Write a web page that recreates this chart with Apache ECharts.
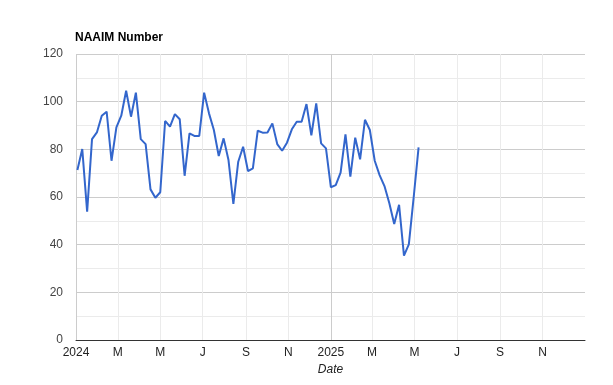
<!DOCTYPE html>
<html>
<head>
<meta charset="utf-8">
<script src="https://cdn.jsdelivr.net/npm/echarts@6/dist/echarts.min.js"></script>
<style>
html,body{margin:0;padding:0;background:#fff;}
#chart{width:613px;height:385px;}
</style>
</head>
<body>
<div id="chart"></div>
<script>
const dates = [
  '2024-01-03','2024-01-10','2024-01-17','2024-01-24','2024-01-31',
  '2024-02-07','2024-02-14','2024-02-21','2024-02-28',
  '2024-03-06','2024-03-13','2024-03-20','2024-03-27',
  '2024-04-03','2024-04-10','2024-04-17','2024-04-24',
  '2024-05-01','2024-05-08','2024-05-15','2024-05-22','2024-05-29',
  '2024-06-05','2024-06-12','2024-06-19','2024-06-26',
  '2024-07-03','2024-07-10','2024-07-17','2024-07-24','2024-07-31',
  '2024-08-07','2024-08-14','2024-08-21','2024-08-28',
  '2024-09-04','2024-09-11','2024-09-18','2024-09-25',
  '2024-10-02','2024-10-09','2024-10-16','2024-10-23','2024-10-30',
  '2024-11-06','2024-11-13','2024-11-20','2024-11-27',
  '2024-12-04','2024-12-11','2024-12-18','2024-12-25',
  '2025-01-01','2025-01-08','2025-01-15','2025-01-22','2025-01-29',
  '2025-02-05','2025-02-12','2025-02-19','2025-02-26',
  '2025-03-05','2025-03-12','2025-03-19','2025-03-26',
  '2025-04-02','2025-04-09','2025-04-16','2025-04-23','2025-04-30',
  '2025-05-07'
];
const naaim = [
  71.3, 80.1, 53.8, 84.3, 87.1,
  94.1, 95.8, 75.2, 89.2,
  94.1, 104.6, 93.7, 103.8,
  84.3, 82.2, 63.2, 59.7,
  62.0, 91.9, 89.5, 94.8, 92.6,
  68.9, 86.7, 85.6, 85.6,
  103.8, 95.1, 88.1, 77.2, 84.6,
  75.5, 57.1, 74.8, 81.1,
  70.9, 72.0, 87.8, 87.0,
  87.1, 90.9, 82.2, 79.4, 82.8,
  88.4, 91.6, 91.6, 99.0,
  85.9, 99.3, 82.5, 80.4,
  64.1, 65.0, 70.2, 86.3, 68.5,
  84.9, 75.8, 92.4, 88.1,
  75.2, 69.2, 64.6, 57.4,
  48.7, 56.7, 35.4, 40.1, 60.0,
  80.8
];
const xTickDates = ['2024-01-01','2024-03-01','2024-05-01','2024-07-01','2024-09-01','2024-11-01',
                    '2025-01-01','2025-03-01','2025-05-01','2025-07-01','2025-09-01','2025-11-01'];
const xTickLabels = ['2024','M','M','J','S','N','2025','M','M','J','S','N'];
const xEndDate = '2026-01-01';
const yTicks = [0, 20, 40, 60, 80, 100, 120];

const toTime = d => echarts.time.parse(d).getTime();
const tickTimes = xTickDates.map(toTime);
const chart = echarts.init(document.getElementById('chart'), null, {renderer: 'canvas'});
const FONT = 'Liberation Sans, Arial, sans-serif';
chart.setOption({
  animation: false,
  backgroundColor: '#fff',
  title: {
    text: 'NAAIM Number',
    left: 75, top: 32, padding: 0,
    textStyle: {fontFamily: FONT, fontSize: 12, fontWeight: 'bold', color: '#000'}
  },
  grid: {left: 76, right: 28, top: 54, bottom: 45, containLabel: false},
  xAxis: {
    type: 'value',
    min: tickTimes[0],
    max: toTime(xEndDate),
    scale: true,
    name: 'Date',
    nameLocation: 'middle',
    nameGap: 24,
    nameTextStyle: {fontFamily: FONT, fontSize: 12, fontStyle: 'italic', color: '#222'},
    axisLine: {show: true, onZero: false, lineStyle: {color: '#333', width: 1}},
    axisTick: {show: false, customValues: tickTimes},
    axisLabel: {
      customValues: tickTimes,
      margin: 7,
      fontFamily: FONT, fontSize: 12, color: '#222',
      formatter: function (v) {
        const i = tickTimes.indexOf(v);
        return i >= 0 ? xTickLabels[i] : '';
      }
    },
    splitLine: {show: true, lineStyle: {color: ['#cccccc','#ebebeb','#ebebeb','#ebebeb','#ebebeb','#ebebeb'], width: 1}}
  },
  yAxis: {
    type: 'value',
    min: yTicks[0],
    max: yTicks[yTicks.length - 1],
    interval: 20,
    axisLine: {show: false},
    axisTick: {show: false},
    axisLabel: {margin: 13, fontFamily: FONT, fontSize: 12, color: '#444'},
    splitLine: {show: true, lineStyle: {color: '#cccccc', width: 1}},
    minorTick: {show: false, splitNumber: 2},
    minorSplitLine: {show: true, lineStyle: {color: '#ebebeb', width: 1}}
  },
  series: [{
    type: 'line',
    data: dates.map((d, i) => [toTime(d), naaim[i]]),
    showSymbol: false,
    symbol: 'none',
    lineStyle: {color: '#3366cc', width: 2},
    itemStyle: {color: '#3366cc'},
    z: 5
  }]
});
</script>
</body>
</html>
